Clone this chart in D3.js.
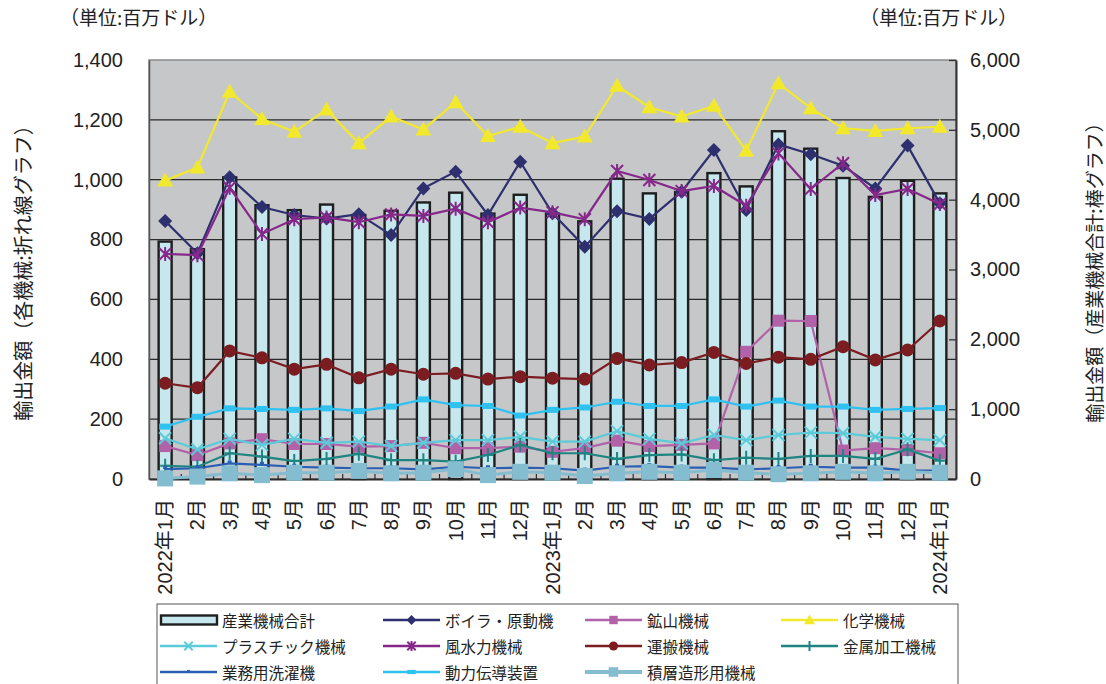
<!DOCTYPE html>
<html><head><meta charset="utf-8">
<script src="https://cdn.jsdelivr.net/npm/d3@7"></script>
<style>
html,body{margin:0;padding:0;background:#fff;}
svg{display:block;}
text{font-family:"Liberation Sans","Noto Sans CJK JP",sans-serif;fill:#222;}
.jp{font-family:"Noto Sans CJK JP",sans-serif;}
</style></head>
<body><svg id="c" width="1106" height="684"></svg>
<script>
const months = ["2022年1月","2月","3月","4月","5月","6月","7月","8月","9月","10月","11月","12月",
  "2023年1月","2月","3月","4月","5月","6月","7月","8月","9月","10月","11月","12月","2024年1月"];
const total     = [3400,3290,4320,3920,3850,3930,3780,3840,3960,4100,3800,4070,3800,3690,4300,4090,4110,4380,4190,4980,4730,4310,4040,4270,4090];
const boiler    = [862,754,1008,909,882,870,885,815,971,1027,882,1060,888,776,895,869,960,1099,899,1118,1085,1047,971,1114,921];
const mining    = [110,80,119,133,117,117,108,110,121,103,103,108,91,103,128,110,114,119,425,529,528,95,103,97,86];
const chemical  = [997,1041,1294,1203,1160,1235,1122,1211,1168,1259,1146,1177,1122,1144,1314,1242,1211,1247,1097,1322,1239,1172,1163,1172,1177];
const plastic   = [136,99,134,114,134,121,125,110,121,130,130,141,125,125,160,134,119,147,130,147,155,153,141,134,130];
const wind      = [752,748,973,819,868,874,858,884,879,903,858,907,891,868,1029,999,962,979,913,1088,969,1055,949,969,919];
const transport = [320,305,428,405,367,383,338,367,350,353,334,342,337,334,403,381,389,423,386,407,400,442,398,431,528];
const metal     = [44,41,86,75,60,67,84,63,63,58,80,114,86,86,67,80,82,63,71,67,77,77,67,99,61];
const laundry   = [33,36,52,47,41,38,36,36,32,41,36,38,36,28,41,43,38,38,32,36,41,38,38,28,28];
const power     = [175,208,236,234,231,236,227,242,266,247,244,212,231,239,258,244,244,266,242,262,242,242,231,234,237];
const additive  = [2,8,19,13,21,21,27,19,21,33,13,24,21,10,19,24,21,30,21,16,19,24,19,24,21];
const leftTicks  = [0,200,400,600,800,1000,1200,1400];
const rightTicks = [0,1000,2000,3000,4000,5000,6000];

const series = [
  {name:"ボイラ・原動機", data:boiler,   color:"#2d2f6e", marker:"diamond"},
  {name:"鉱山機械",       data:mining,   color:"#b262a8", marker:"square"},
  {name:"化学機械",       data:chemical, color:"#f2e92c", marker:"triangle"},
  {name:"プラスチック機械",data:plastic,  color:"#5ccbd9", marker:"x"},
  {name:"風水力機械",     data:wind,     color:"#86288a", marker:"star"},
  {name:"運搬機械",       data:transport,color:"#7b1c20", marker:"circle"},
  {name:"金属加工機械",   data:metal,    color:"#1f8582", marker:"plus"},
  {name:"業務用洗濯機",   data:laundry,  color:"#2a5fb3", marker:"dash"},
  {name:"動力伝導装置",   data:power,    color:"#2fc1f0", marker:"rect"},
  {name:"積層造形用機械", data:additive, color:"#85bdd0", marker:"bigsquare"}
];

const svg = d3.select("#c");
const L=149, R=956, T=60, B=479;
const x = d3.scaleBand().domain(months.map((m,i)=>i)).range([L,R]).padding(0);
const yL = d3.scaleLinear().domain([0,1400]).range([B,T]);
const yR = d3.scaleLinear().domain([0,6000]).range([B,T]);
const cx = i => x(i)+x.bandwidth()/2;

// plot background
svg.append("rect").attr("x",L).attr("y",T).attr("width",R-L).attr("height",B-T)
  .attr("fill","#c6c7c9").attr("stroke","#8a8a8a").attr("stroke-width",1.5);

// gridlines
svg.append("g").selectAll("line").data(leftTicks.filter(v=>v>0&&v<1400)).join("line")
  .attr("x1",L).attr("x2",R).attr("y1",d=>yL(d)).attr("y2",d=>yL(d))
  .attr("stroke","#2a2a2a").attr("stroke-width",1.3);

// left axis
const gL = svg.append("g").attr("transform",`translate(${L},0)`)
  .call(d3.axisLeft(yL).tickValues(leftTicks).tickSize(0).tickPadding(26).tickFormat(d3.format(",")));
gL.select(".domain").attr("stroke","#555").attr("stroke-width",1.5);
gL.selectAll("text").attr("font-size",20).attr("font-family","Liberation Sans, sans-serif").attr("fill","#222");

// right axis
const gR = svg.append("g").attr("transform",`translate(${R},0)`)
  .call(d3.axisRight(yR).tickValues(rightTicks).tickSizeInner(-7).tickSizeOuter(0).tickPadding(14).tickFormat(d3.format(",")));
gR.select(".domain").attr("stroke","#333").attr("stroke-width",2);
gR.selectAll(".tick line").attr("stroke","#333").attr("stroke-width",1.3);
gR.selectAll("text").attr("font-size",20).attr("font-family","Liberation Sans, sans-serif").attr("fill","#222");

// bars
const bw = 13;
svg.append("g").selectAll("rect").data(total).join("rect")
  .attr("x",(d,i)=>cx(i)-bw/2).attr("width",bw)
  .attr("y",d=>yR(d)).attr("height",d=>B-yR(d))
  .attr("fill","#c6e7ee").attr("stroke","#1e1e1e").attr("stroke-width",2.4);

// bottom axis
const gB = svg.append("g").attr("transform",`translate(0,${B})`)
  .call(d3.axisBottom(x).tickSize(0).tickFormat(""));
gB.select(".domain").attr("stroke","#2a2a2a").attr("stroke-width",2);
svg.append("g").selectAll("line").data(d3.range(1,months.length)).join("line")
  .attr("x1",i=>x(i)).attr("x2",i=>x(i)).attr("y1",B).attr("y2",B-5)
  .attr("stroke","#2a2a2a").attr("stroke-width",1.2);
svg.append("g").selectAll("text").data(months).join("text")
  .attr("transform",(d,i)=>`translate(${cx(i)},${B+20}) rotate(-90)`)
  .attr("text-anchor","end").attr("dominant-baseline","central")
  .attr("font-size",20).text(d=>d);

// markers
function drawMarker(g, type, color, px, py, scale=1){
  const s=scale;
  switch(type){
    case "diamond":
      g.append("path").attr("d",`M${px},${py-7*s}L${px+7*s},${py}L${px},${py+7*s}L${px-7*s},${py}Z`).attr("fill",color);break;
    case "square":
      g.append("rect").attr("x",px-6*s).attr("y",py-6*s).attr("width",12*s).attr("height",12*s).attr("fill",color);break;
    case "triangle":
      g.append("path").attr("d",`M${px},${py-8*s}L${px+8*s},${py+6*s}L${px-8*s},${py+6*s}Z`).attr("fill",color);break;
    case "x":
      g.append("path").attr("d",`M${px-6*s},${py-6*s}L${px+6*s},${py+6*s}M${px+6*s},${py-6*s}L${px-6*s},${py+6*s}`)
        .attr("stroke",color).attr("stroke-width",2).attr("fill","none");break;
    case "star":
      g.append("path").attr("d",`M${px-6*s},${py-6*s}L${px+6*s},${py+6*s}M${px+6*s},${py-6*s}L${px-6*s},${py+6*s}M${px},${py-7*s}L${px},${py+7*s}`)
        .attr("stroke",color).attr("stroke-width",2).attr("fill","none");break;
    case "circle":
      g.append("circle").attr("cx",px).attr("cy",py).attr("r",6.5*s).attr("fill",color);break;
    case "plus":
      g.append("path").attr("d",`M${px},${py-7*s}L${px},${py+7*s}M${px-5*s},${py}L${px+5*s},${py}`)
        .attr("stroke",color).attr("stroke-width",2).attr("fill","none");break;
    case "dash":
      g.append("rect").attr("x",px-2*s).attr("y",py-3*s).attr("width",4*s).attr("height",3*s).attr("fill",color);break;
    case "rect":
      g.append("rect").attr("x",px-6*s).attr("y",py-3*s).attr("width",12*s).attr("height",6*s).attr("fill",color);break;
    case "bigsquare":
      g.append("rect").attr("x",px-8*s).attr("y",py-8*s).attr("width",16*s).attr("height",16*s).attr("fill",color);break;
  }
}

const line = d3.line().x((d,i)=>cx(i)).y(d=>yL(d));
series.forEach(s=>{
  const g = svg.append("g");
  g.append("path").datum(s.data).attr("d",line).attr("fill","none")
    .attr("stroke",s.color).attr("stroke-width",s.marker==="bigsquare"?3:2.2);
  s.data.forEach((v,i)=>drawMarker(g,s.marker,s.color,cx(i),yL(v)));
});

// titles
svg.append("text").attr("class","jp").attr("x",60).attr("y",25).attr("font-size",19).text("（単位:百万ドル）");
svg.append("text").attr("class","jp").attr("x",860).attr("y",25).attr("font-size",19).text("（単位:百万ドル）");
svg.append("text").attr("class","jp").attr("transform","translate(22,268) rotate(-90)")
  .attr("text-anchor","middle").attr("dominant-baseline","central").attr("font-size",20)
  .text("輸出金額（各機械:折れ線グラフ）");
svg.append("text").attr("class","jp").attr("transform","translate(1093,268) rotate(-90)")
  .attr("text-anchor","middle").attr("dominant-baseline","central").attr("font-size",19)
  .text("輸出金額（産業機械合計:棒グラフ）");

// legend
svg.append("rect").attr("x",157).attr("y",604).attr("width",801).attr("height",90)
  .attr("fill","#fff").attr("stroke","#555").attr("stroke-width",1);
const legItems = [{name:"産業機械合計", bar:true}].concat(series);
const colX = [160, 383, 585, 781];
const rowY = [620, 646, 672];
legItems.forEach((it,k)=>{
  const c = k%4, r = Math.floor(k/4);
  const x0 = colX[c], y0 = rowY[r];
  const g = svg.append("g");
  if(it.bar){
    g.append("rect").attr("x",x0+1).attr("y",y0-4.5).attr("width",56).attr("height",9)
      .attr("fill","#c6e7ee").attr("stroke","#1e1e1e").attr("stroke-width",2.4);
  } else {
    g.append("line").attr("x1",x0).attr("x2",x0+57).attr("y1",y0).attr("y2",y0)
      .attr("stroke",it.color).attr("stroke-width",it.marker==="bigsquare"?4:2.5);
    drawMarker(g,it.marker,it.color,x0+28.5,y0,it.marker==="bigsquare"?0.6:0.7);
  }
  g.append("text").attr("class","jp").attr("x",x0+62).attr("y",y0).attr("dominant-baseline","central")
    .attr("font-size",15.5).text(it.name);
});
</script></body></html>
